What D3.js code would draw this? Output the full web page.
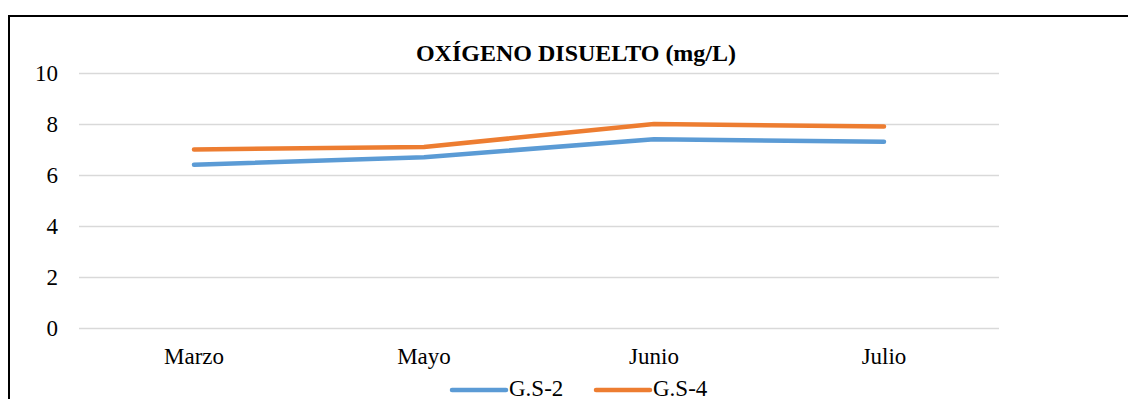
<!DOCTYPE html>
<html lang="es">
  <head>
    <meta charset="UTF-8" />
    <title>Oxígeno disuelto</title>
    <script src="https://d3js.org/d3.v7.min.js"></script>
    <style>
      body {
        margin: 0;
        padding: 0;
        background-color: #fff;
      }
    </style>
  </head>
  <body>
    <div id="chart"></div>

    <script>
      const months = ["Marzo", "Mayo", "Junio", "Julio"];
      const gs2 = [6.4, 6.7, 7.4, 7.3];
      const gs4 = [7.0, 7.1, 8.0, 7.9];
      const yTicks = [0, 2, 4, 6, 8, 10];
      const seriesNames = ["G.S-2", "G.S-4"];
      const seriesColors = ["#5b9bd5", "#ed7d31"];

      const width = 1128;
      const height = 399;
      const serif = "'Liberation Serif', 'Times New Roman', 'DejaVu Serif', serif";

      const svg = d3.select("#chart").append("svg").attr("width", width).attr("height", height).attr("font-family", serif);

      // marco del gráfico (se corta a la derecha y abajo)
      svg.append("rect").attr("x", 9).attr("y", 16).attr("width", 1300).attr("height", 500).attr("fill", "none").attr("stroke", "#000").attr("stroke-width", 2);

      const x = d3.scaleBand().domain(months).range([79, 999]);
      const y = d3.scaleLinear().domain([0, 10]).range([328, 73]);

      // grid + eje y
      const yAxis = svg
        .append("g")
        .attr("transform", "translate(79,0)")
        .call(d3.axisLeft(y).tickValues(yTicks).tickSize(-920).tickPadding(21));
      yAxis.attr("font-family", serif).attr("font-size", 23);
      yAxis.select(".domain").remove();
      yAxis.selectAll(".tick line").attr("stroke", "#d9d9d9").attr("stroke-width", 1.5);
      yAxis.selectAll(".tick text").attr("fill", "#000").attr("dy", "0.34em");

      // eje x
      const xAxis = svg
        .append("g")
        .attr("transform", "translate(0,328)")
        .call(d3.axisBottom(x).tickSize(0).tickPadding(0));
      xAxis.attr("font-family", serif).attr("font-size", 23);
      xAxis.select(".domain").remove();
      xAxis.selectAll(".tick text").attr("fill", "#000").attr("y", 36).attr("dy", null);

      // título
      svg.append("text").attr("x", 576).attr("y", 61).attr("text-anchor", "middle").attr("font-size", 24).attr("font-weight", "bold").text("OXÍGENO DISUELTO (mg/L)");

      const line = d3
        .line()
        .x((d, i) => x(months[i]) + x.bandwidth() / 2)
        .y((d) => y(d));

      [gs2, gs4].forEach(function (values, i) {
        svg.append("path").datum(values).attr("d", line).attr("fill", "none").attr("stroke", seriesColors[i]).attr("stroke-width", 4.5).attr("stroke-linecap", "round").attr("stroke-linejoin", "round");
      });

      // leyenda
      const legend = svg.append("g").attr("transform", "translate(452,390)");
      seriesNames.forEach(function (name, i) {
        const g = legend.append("g").attr("transform", `translate(${i * 144},0)`);
        g.append("line").attr("x1", 0).attr("x2", 54).attr("y1", 0).attr("y2", 0).attr("stroke", seriesColors[i]).attr("stroke-width", 4.5).attr("stroke-linecap", "round");
        g.append("text").attr("x", 57).attr("y", 6).attr("font-size", 23).text(name);
      });
    </script>
  </body>
</html>
